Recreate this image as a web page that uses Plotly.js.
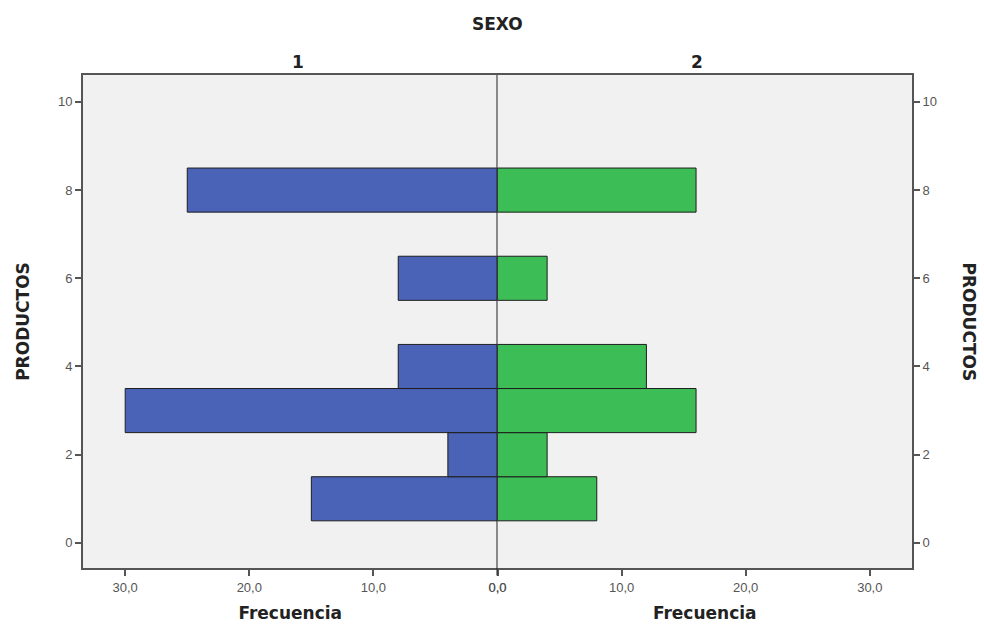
<!DOCTYPE html>
<html>
<head>
<meta charset="utf-8">
<script src="https://cdn.plot.ly/plotly-3.0.1.min.js"></script>
<style>html,body{margin:0;padding:0;background:#fff;}#chart{width:984px;height:627px;}</style>
</head>
<body>
<div id="chart"></div>
<script>
const productos = [1, 2, 3, 4, 6, 8];
const sexo1 = [15, 4, 30, 8, 8, 25];
const sexo2 = [8, 4, 16, 12, 4, 16];
const xTickVals = [0, 10, 20, 30];
const xTickText = ["0,0", "10,0", "20,0", "30,0"];
const yTickVals = [0, 2, 4, 6, 8, 10];

const FONT = "Liberation Sans, Arial, sans-serif";
const TFONT = "DejaVu Sans, Liberation Sans, sans-serif";
const lineCol = "#555555";

const traces = [
  {type: "bar", orientation: "h", y: productos, x: sexo1, width: 1,
   marker: {color: "#4a63b6", line: {color: "#1e1e1e", width: 1}},
   xaxis: "x", yaxis: "y", hoverinfo: "x+y", showlegend: false},
  {type: "bar", orientation: "h", y: productos, x: sexo2, width: 1,
   marker: {color: "#3dbd55", line: {color: "#1e1e1e", width: 1}},
   xaxis: "x2", yaxis: "y2", hoverinfo: "x+y", showlegend: false}
];

const titleFont = {family: TFONT, size: 17, color: "#222", weight: "bold"};

const xCommon = {
  tickvals: xTickVals, ticktext: xTickText, ticks: "outside", ticklen: 6,
  tickcolor: lineCol, tickwidth: 2, showgrid: false, zeroline: false,
  showline: true, linecolor: lineCol, linewidth: 2, mirror: true,
  tickfont: {family: FONT, size: 13, color: "#555"}, fixedrange: true
};
const yCommon = {
  range: [-0.57, 10.61], tickvals: yTickVals, ticks: "outside", ticklen: 6,
  tickcolor: lineCol, tickwidth: 2, showgrid: false, zeroline: false,
  showline: true, linecolor: lineCol, linewidth: 2, mirror: false,
  tickfont: {family: FONT, size: 13, color: "#555"}, fixedrange: true
};

const layout = {
  width: 984, height: 627,
  margin: {l: 83, r: 72, t: 75, b: 59},
  paper_bgcolor: "#ffffff", plot_bgcolor: "#f1f1f1",
  bargap: 0,
  xaxis: Object.assign({}, xCommon, {domain: [0, 0.5], range: [33.4, 0], anchor: "y",
    title: {text: "Frecuencia", standoff: 14, font: titleFont}}),
  xaxis2: Object.assign({}, xCommon, {domain: [0.5, 1], range: [0, 33.4], anchor: "y2",
    title: {text: "Frecuencia", standoff: 14, font: titleFont}}),
  yaxis: Object.assign({}, yCommon, {anchor: "x", side: "left",
    title: {text: "PRODUCTOS", standoff: 24, font: titleFont}}),
  yaxis2: Object.assign({}, yCommon, {anchor: "x2", side: "right", matches: "y"}),
  shapes: [
    {type: "line", xref: "x", yref: "paper", x0: 0, x1: 0, y0: -0.015, y1: 1,
     layer: "above", line: {color: "#222222", width: 2}}
  ],
  annotations: [
    {text: "SEXO", xref: "paper", yref: "paper", x: 0.5, y: 1, yshift: 63, showarrow: false,
     font: {family: TFONT, size: 17, color: "#222", weight: "bold"}},
    {text: "1", xref: "paper", yref: "paper", x: 0.25, y: 1, yshift: 25, showarrow: false,
     font: {family: TFONT, size: 17, color: "#222", weight: "bold"}},
    {text: "2", xref: "paper", yref: "paper", x: 0.75, y: 1, yshift: 25, showarrow: false,
     font: {family: TFONT, size: 17, color: "#222", weight: "bold"}},
    {text: "PRODUCTOS", xref: "paper", yref: "paper", x: 1, xshift: 69, y: 0.5, textangle: 90,
     showarrow: false, font: titleFont}
  ]
};

Plotly.newPlot("chart", traces, layout, {displayModeBar: false, staticPlot: true});
</script>
</body>
</html>
